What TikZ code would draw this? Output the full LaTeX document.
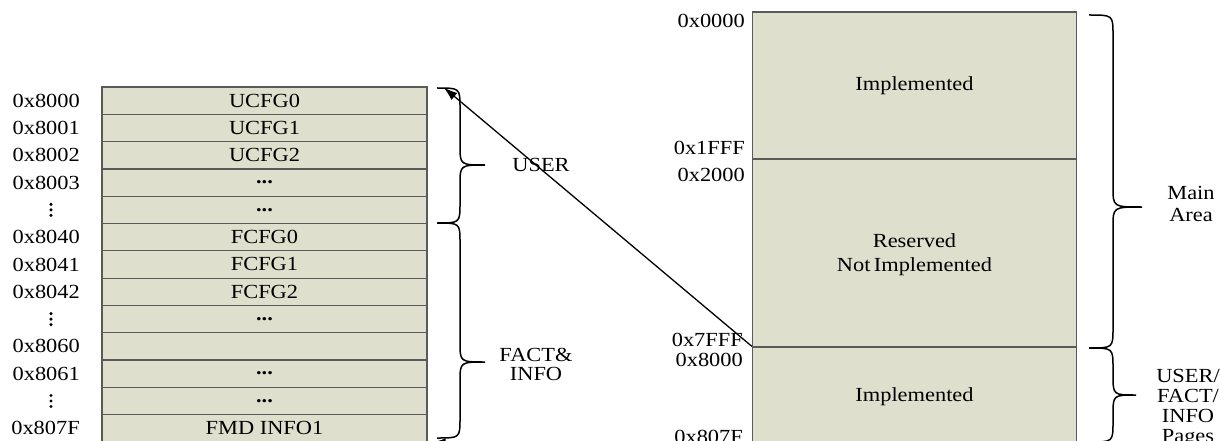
\documentclass[tikz,border=0pt]{standalone}
\usepackage{fontspec}
\setmainfont{Liberation Serif}[FakeStretch=1.12]
\usetikzlibrary{arrows.meta}
\definecolor{cellfill}{HTML}{DEDFCC}
\definecolor{celledge}{HTML}{5A5A5A}
\newcommand\curlybrace[6]{%
  \draw[bracestyle] (#1,#4) .. controls (#2,#4) .. (#2,#4+20) -- (#2,#5-20)
    .. controls (#2,#5) .. (#3,#5) .. controls (#2,#5) .. (#2,#5+20)
    -- (#2,#6-20) .. controls (#2,#6) .. (#1,#6);}
\begin{document}
\begin{tikzpicture}[x=1pt,y=-1pt,
  every node/.style={font=\fontsize{20}{24}\selectfont, inner sep=0pt},
  cell/.style={draw=celledge, line width=1.2pt, fill=cellfill, minimum width=325pt, minimum height=27.3pt},
  region/.style={draw=celledge, line width=1.2pt, fill=cellfill, minimum width=324pt},
  addr/.style={anchor=east},
  dotmark/.style={fill=black},
  bracestyle/.style={line width=1.5pt, black},
  link/.style={line width=1.3pt, -{Latex[length=14pt,width=9pt]}}]
\useasboundingbox (0,0) rectangle (1220,441);
% left table
\foreach \i/\t in {1/UCFG0,2/UCFG1,3/UCFG2,4/\textbf{...},5/\textbf{...},6/FCFG0,7/FCFG1,8/FCFG2,9/\textbf{...},10/{},11/\textbf{...},12/\textbf{...},13/FMD INFO1}
  \node[cell] (c\i) at (264.5,{87+(\i-0.5)*27.3}) {\t};
\foreach \i/\t in {1/0x8000,2/0x8001,3/0x8002,4/0x8003,6/0x8040,7/0x8041,8/0x8042,10/0x8060,11/0x8061,13/0x807F}
  \node[addr] (la\i) at (80,{87+(\i-0.5)*27.3}) {\t};
\foreach \i in {5,9,12}
  \foreach \d in {-5.5,0,5.5}
    \fill[dotmark] (51,{87+(\i-0.5)*27.3+\d}) circle (1.7pt);
% right table
\node[region, minimum height=147pt] (r1) at (914.5,85.5) {Implemented};
\node[region, minimum height=188pt] (r2) at (914.5,253) {};
\node[align=center] (r2t) at (914.5,255) {Reserved\\Not\,Implemented};
\node[region, minimum height=100pt] (r3) at (914.5,397) {Implemented};
\node[addr] (ra1) at (745,21) {0x0000};
\node[addr] (ra2) at (745,148) {0x1FFF};
\node[addr] (ra3) at (745,175) {0x2000};
\node[addr] (ra4) at (743,340) {0x7FFF};
\node[addr] (ra5) at (743,360) {0x8000};
\node[addr] (ra6) at (743,437) {0x807F};
% braces
\curlybrace{437}{460}{485}{88}{165}{223}
\curlybrace{437}{460}{485}{223}{362}{438}
\curlybrace{1089}{1113}{1142}{15}{207}{348}
\curlybrace{1089}{1113}{1136}{348}{395}{442}
\node (user) at (541,165) {USER};
\node[align=center, font=\fontsize{20}{19}\selectfont] (fact) at (536,364) {FACT\&\\INFO};
\node[align=center, font=\fontsize{20}{22}\selectfont] (main) at (1191,204) {Main\\Area};
\node[align=center, font=\fontsize{20}{20}\selectfont] (pages) at (1188,408) {USER/\\FACT/\\INFO\hspace*{0.4em}\\Pages};
% connectors
\draw[link] (r3.north west) -- ([xshift=16pt,yshift=-1pt]c1.north east);
\draw[link] (r3.south west) -- ([xshift=4pt]c13.south east);
\end{tikzpicture}
\end{document}
